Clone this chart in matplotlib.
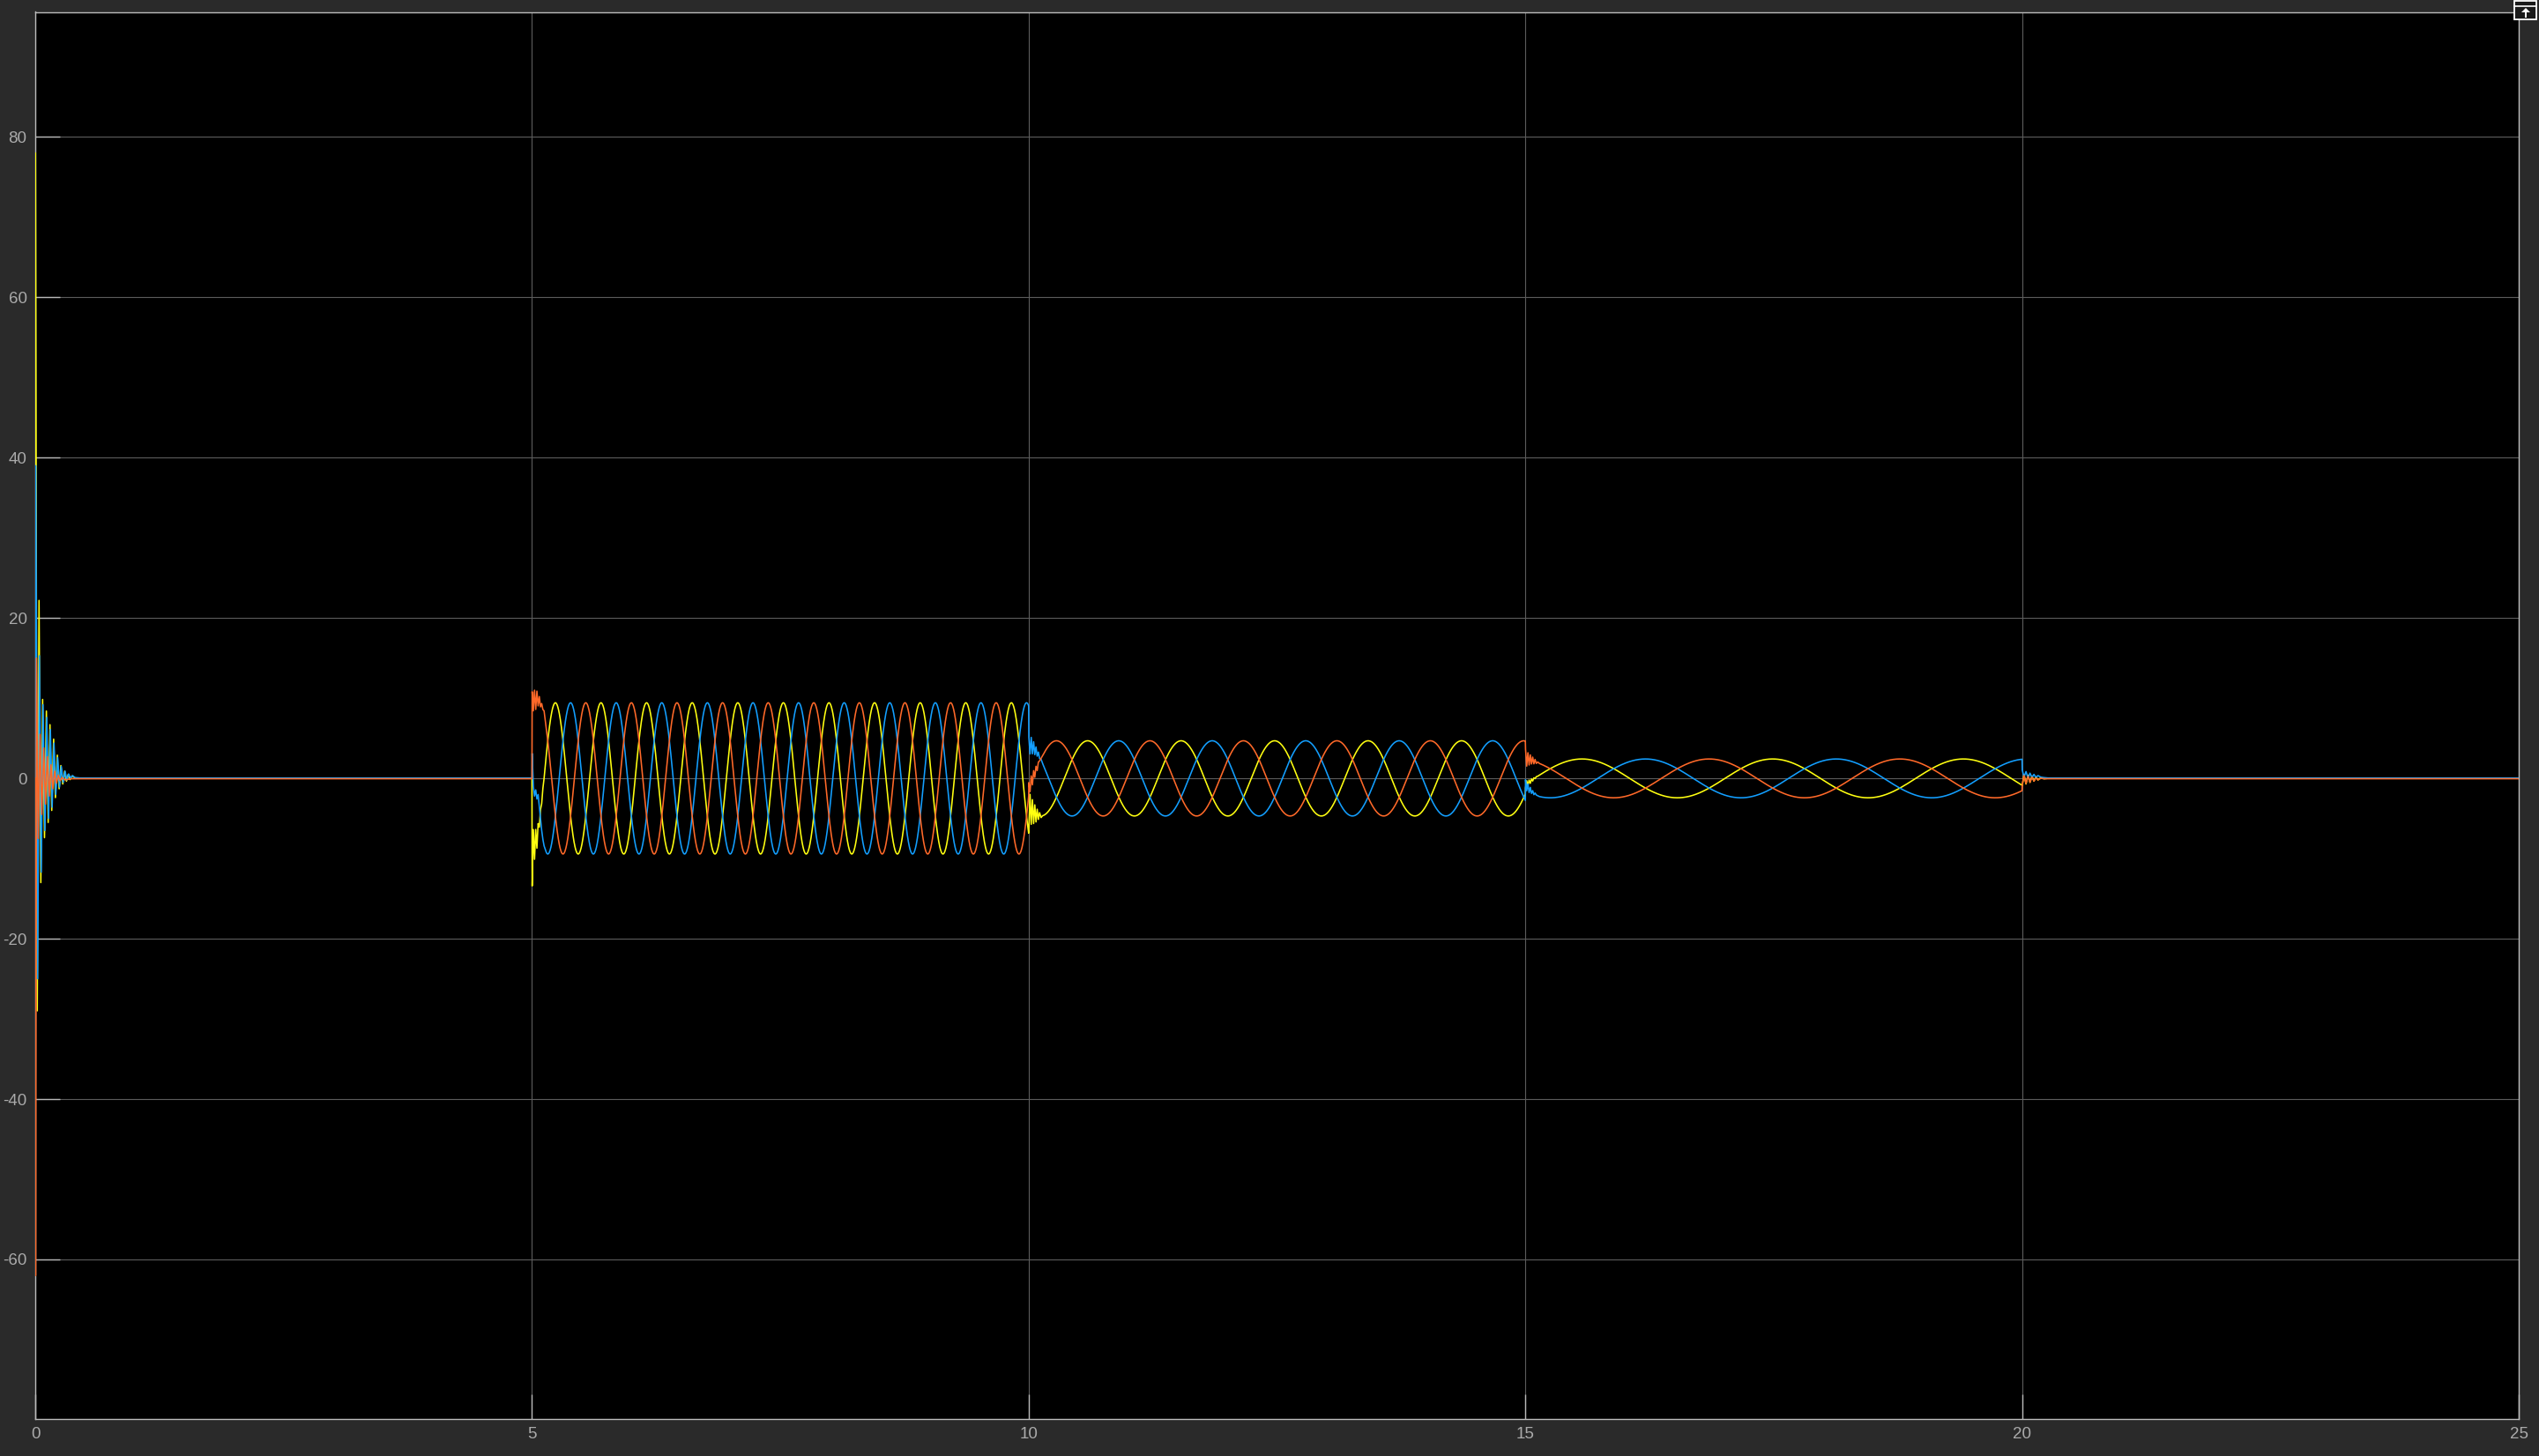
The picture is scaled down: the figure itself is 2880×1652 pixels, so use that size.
import matplotlib
matplotlib.use('Agg')
import matplotlib.pyplot as plt
import numpy as np
from matplotlib.patches import Rectangle, Polygon
from matplotlib.lines import Line2D

plt.rcParams['axes.unicode_minus'] = False
plt.rcParams['font.family'] = ['Liberation Sans', 'DejaVu Sans']

# scope channel colours
yellow = '#ffff11'
blue = '#139fff'
orange = '#ff6929'

# steady three-phase stretches
seg_start = [5.0, 10.0, 15.0]
seg_end = [10.0, 15.0, 20.0]
seg_amp = [9.43, 4.69, 2.42]
seg_period = [0.459, 0.941, 1.92]
# time of the first crest of every channel in each stretch
peak_yellow = [5.236, 10.594, 17.49]
peak_blue = [5.389, 10.907, 16.21]
peak_orange = [5.542, 10.28, 16.85]

# resting level before 5 s and after 20 s
rest_yellow = [0.0, 0.0]
rest_blue = [0.05, 0.05]
rest_orange = [-0.04, -0.04]

# start-up ringing at t = 0
yellow_t0_t = [0, 0.002, 0.02, 0.038, 0.056, 0.074, 0.093, 0.112, 0.13, 0.148, 0.166, 0.185,
               0.203, 0.222, 0.24, 0.258, 0.277, 0.296, 0.314, 0.332, 0.35, 0.37, 0.4, 0.45]
yellow_t0_v = [0, 78, -29, 22.2, -13, 9.85, -7.4, 8.4, -5.5, 6.7, -4, 4.9,
               -2.4, 2.9, -1.3, 1.6, -0.7, 0.9, -0.35, 0.5, -0.15, 0.3, 0.05, 0]
blue_t0_t = [0, 0.001, 0.005, 0.024, 0.042, 0.06, 0.078, 0.097, 0.116, 0.134, 0.152, 0.17, 0.189,
             0.207, 0.226, 0.244, 0.262, 0.281, 0.3, 0.318, 0.336, 0.355, 0.375, 0.4, 0.45]
blue_t0_v = [0, -60, 39, -25, 15.3, -11.7, 9.2, -6.5, 7.6, -5, 6.1, -3.6, 4.4,
             -2, 2.6, -1.1, 1.5, -0.5, 0.9, -0.2, 0.55, 0.05, 0.35, 0.1, 0.05]
orange_t0_t = [0, 0.003, 0.012, 0.03, 0.048, 0.066, 0.085, 0.103, 0.121, 0.14, 0.158, 0.176,
               0.195, 0.213, 0.232, 0.25, 0.27, 0.3, 0.35, 0.45]
orange_t0_v = [0, -62, 15, -7.5, 5.5, -4.5, 3.8, -3.2, 2.7, -2.2, 1.7, -1.3,
               0.9, -0.6, 0.4, -0.3, 0.1, -0.2, -0.05, -0.04]

# ringing after each switch (5, 10, 15, 20 s): offsets and deviation from the new level
ev_offsets = [
    [0.002, 0.014, 0.026, 0.038, 0.05, 0.062, 0.074, 0.086, 0.098, 0.11, 0.122, 0.135],
    [0.002, 0.014, 0.026, 0.038, 0.05, 0.062, 0.074, 0.086, 0.098, 0.11, 0.125, 0.14],
    [0.002, 0.014, 0.026, 0.038, 0.05, 0.062, 0.074, 0.086, 0.098, 0.11, 0.125, 0.14],
    [0.002, 0.02, 0.04, 0.06, 0.08, 0.1, 0.12, 0.14, 0.16, 0.19, 0.22, 0.26],
]
yellow_dev = [
    [-4.0, 3.0, -1.0, 2.2, -0.9, 1.2, -0.4, 0.5, -0.2, 0.2, -0.1, 0],
    [-3.0, 1.5, -2.0, 1.3, -1.5, 1.0, -1.0, 0.7, -0.5, 0.4, -0.2, 0],
    [-0.5, 0.3, -0.4, 0.2, -0.3, 0.15, -0.2, 0.1, -0.1, 0.05, 0, 0],
    [-0.9, 0.5, -0.7, 0.4, -0.5, 0.3, -0.35, 0.2, -0.2, 0.1, -0.05, 0],
]
blue_dev = [
    [-2.1, -4.85, -4.6, -2.3, -1.9, 0.2, 0.2, 0.05, -0.2, -0.25, -0.2, 0],
    [0.6, -1.4, 0.8, -1.1, 0.6, -0.8, 0.4, -0.5, 0.3, -0.2, 0.1, 0],
    [1.5, 0.2, 1.1, 0.1, 0.8, 0.1, 0.5, 0.05, 0.3, 0.1, 0.05, 0],
    [1.0, 0.1, 0.8, 0.0, 0.6, 0.05, 0.45, 0.05, 0.3, 0.1, 0.05, 0],
]
orange_dev = [
    [6.6, 2.9, 4.3, 0.9, 2.4, 0, 0.85, -0.5, 0.1, -0.2, 0.3, 0],
    [0.8, -0.7, 0.9, -0.6, 0.8, -0.4, 0.6, -0.3, 0.4, 0.2, 0.1, 0],
    [1.3, -0.8, 0.9, -0.6, 0.7, -0.4, 0.5, -0.3, 0.3, -0.15, 0.1, 0],
    [-0.8, 0.4, -0.6, 0.3, -0.45, 0.2, -0.3, 0.1, -0.15, 0.05, 0, 0],
]


def wave(i, peak, t):
    return seg_amp[i] * np.cos(2 * np.pi * (t - peak) / seg_period[i])


def channel(t0_t, t0_v, peaks, rest, devs):
    t = list(t0_t) + [5.0]
    v = list(t0_v) + [rest[0]]
    for i in range(3):
        tt = seg_start[i] + np.array(ev_offsets[i])
        t += list(tt)
        v += list(wave(i, peaks[i], tt) + np.array(devs[i]))
        ts = np.append(np.arange(tt[-1], seg_end[i], 0.002)[1:], seg_end[i])
        t += list(ts)
        v += list(wave(i, peaks[i], ts))
    tt = 20.0 + np.array(ev_offsets[3])
    t += list(tt)
    v += list(rest[1] + np.array(devs[3]))
    t += [25.0]
    v += [rest[1]]
    return t, v


fig = plt.figure(figsize=(28.8, 16.52), dpi=100, facecolor='#2a2a2a')
ax = fig.add_axes([40 / 2880, 1 - 1610 / 1652, 2817 / 2880, 1596.5 / 1652])
ax.set_facecolor('black')

for t0_t, t0_v, peaks, rest, devs, col in [
        (yellow_t0_t, yellow_t0_v, peak_yellow, rest_yellow, yellow_dev, yellow),
        (blue_t0_t, blue_t0_v, peak_blue, rest_blue, blue_dev, blue),
        (orange_t0_t, orange_t0_v, peak_orange, rest_orange, orange_dev, orange)]:
    t, v = channel(t0_t, t0_v, peaks, rest, devs)
    ax.plot(t, v, color=col, lw=1.15, zorder=3)

ax.set_xlim(0, 25)
ax.set_ylim(-79.9, 95.6)
ax.set_xticks([0, 5, 10, 15, 20, 25])
ax.set_yticks([-60, -40, -20, 0, 20, 40, 60, 80])
ax.set_axisbelow(True)
ax.grid(True, color='#5c5c5c', lw=0.8)
ax.tick_params(direction='in', length=20, width=1, colors='#b9b9b9',
               labelcolor='#aaaaaa', labelsize=13.5, pad=6.8)
for s in ax.spines.values():
    s.set_color('#bcbcbc')
    s.set_linewidth(1.0)


# little undock icon in the top right corner
def px(x, y):
    return (x / 2880, 1 - y / 1652)


x0, y0 = px(2852, 21.5)
fig.patches.append(Rectangle((x0, y0), 25 / 2880, 20 / 1652, transform=fig.transFigure,
                             facecolor='#1a1a1a', edgecolor='white', lw=1.3, zorder=5))
fig.lines.append(Line2D([px(2852, 7)[0], px(2877, 7)[0]], [px(2852, 7)[1], px(2877, 7)[1]],
                        transform=fig.transFigure, color='white', lw=1.2, zorder=6))
fig.patches.append(Polygon([px(2860, 14), px(2870, 14), px(2865, 9)], closed=True,
                           transform=fig.transFigure, facecolor='white', edgecolor='none', zorder=6))
fig.patches.append(Rectangle(px(2863.6, 19.5), 2.8 / 2880, 5.5 / 1652, transform=fig.transFigure,
                             facecolor='white', edgecolor='none', zorder=6))

fig.savefig('out.png', dpi=100, facecolor=fig.get_facecolor())
